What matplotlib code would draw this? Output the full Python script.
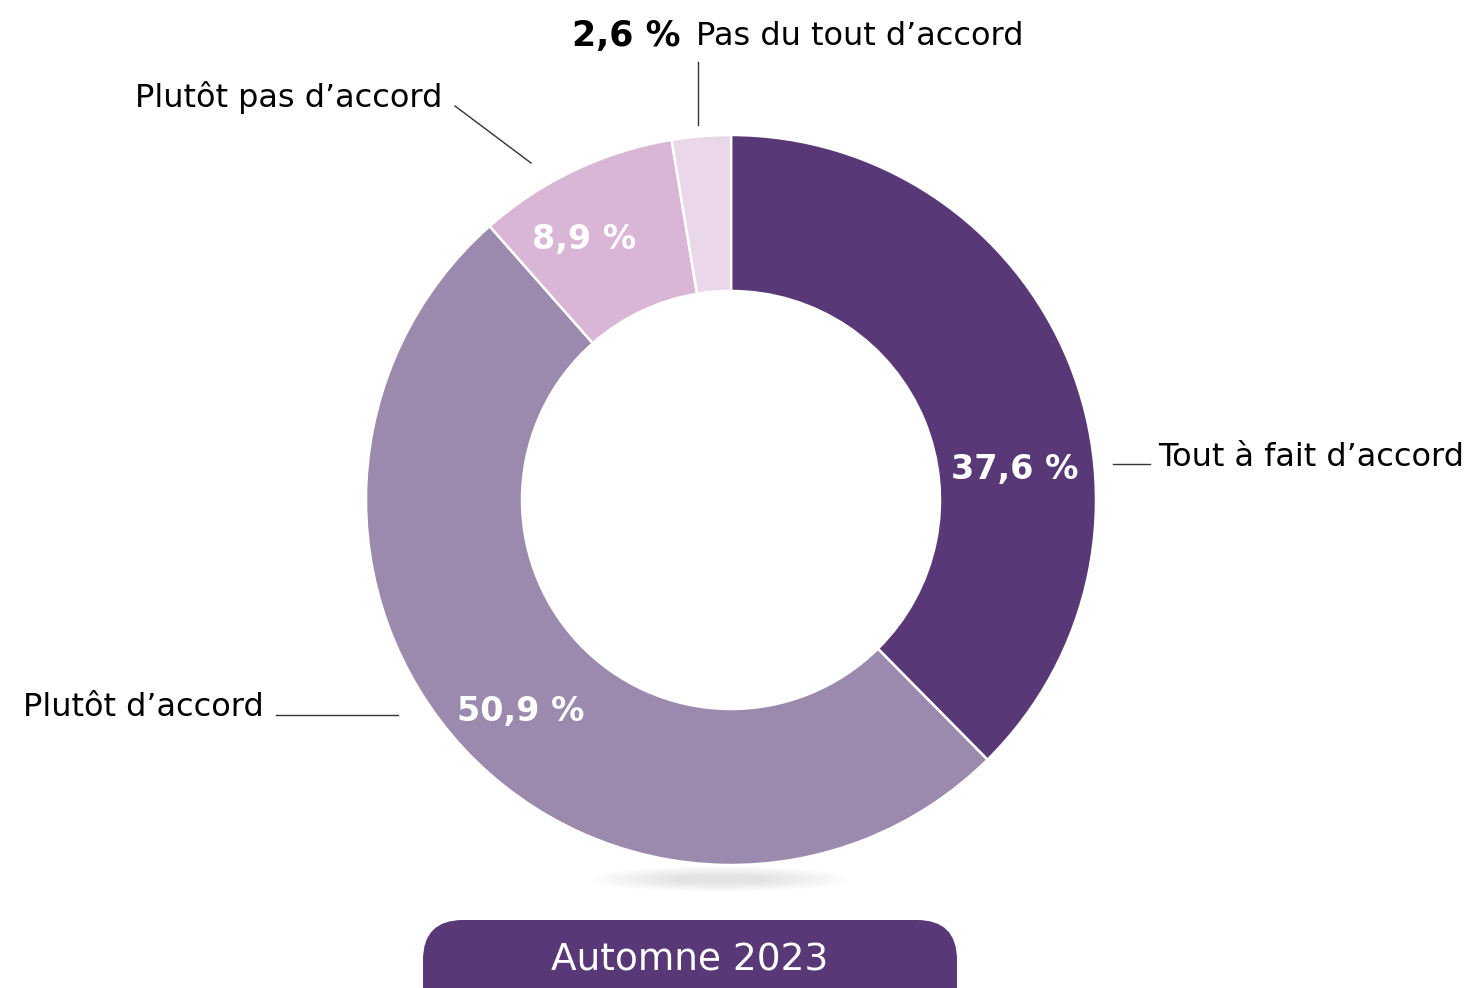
import matplotlib
matplotlib.use("Agg")
import matplotlib.pyplot as plt
from matplotlib.patches import FancyBboxPatch, Ellipse

# data
categories = ["Tout à fait d’accord", "Plutôt d’accord", "Plutôt pas d’accord", "Pas du tout d’accord"]
values = [37.6, 50.9, 8.9, 2.6]
value_labels = ["37,6 %", "50,9 %", "8,9 %", "2,6 %"]
colors = ["#583876", "#9c8aae", "#d9b5d6", "#ead7ea"]
period = "Automne 2023"

W, H = 1473, 988
plt.rcParams['font.family'] = ['DejaVu Sans']

fig = plt.figure(figsize=(W / 100, H / 100), dpi=100)
ax = fig.add_axes([0, 0, 1, 1])


def Y(y):
    # pixel row -> data y
    return H - y


# soft shadow under the donut
for i in range(14):
    ax.add_patch(Ellipse((720, Y(879)), 260 - i * 12, 26 - i * 1.4,
                         color="#000000", alpha=0.007, lw=0, zorder=0))

cx, cy, r_out, ring = 731, Y(500), 365, 156
ax.pie(values, colors=colors, startangle=90, counterclock=False,
       center=(cx, cy), radius=r_out, frame=True,
       wedgeprops=dict(width=ring, edgecolor="white", linewidth=1.8))
ax.set_xlim(0, W)
ax.set_ylim(0, H)
ax.set_aspect('auto')
ax.axis('off')

# percentages inside the ring
inner_pos = [(1015, 469), (521, 711), (584, 240)]
for (x, y), lab in zip(inner_pos, value_labels[:3]):
    ax.text(x, Y(y), lab, color="white", fontsize=24, fontweight="bold",
            ha="center", va="center")

# category labels and leader lines
lc = "#333333"
fs = 23
ax.plot([1113, 1150], [Y(464), Y(464)], color=lc, lw=1)
ax.text(1158, Y(458), categories[0], fontsize=fs, ha="left", va="center")

ax.plot([276, 398], [Y(715), Y(715)], color=lc, lw=1)
ax.text(264, Y(708), categories[1], fontsize=fs, ha="right", va="center")

ax.plot([455, 531], [Y(106), Y(163)], color=lc, lw=1)
ax.text(442, Y(98), categories[2], fontsize=fs, ha="right", va="center")

ax.plot([698, 698], [Y(62), Y(125)], color=lc, lw=1)
ax.text(681, Y(36), value_labels[3], fontsize=25, fontweight="bold",
        ha="right", va="center")
ax.text(696, Y(37), categories[3], fontsize=fs, ha="left", va="center")

# period badge
ax.add_patch(FancyBboxPatch((463, -100), 454, 128,
                            boxstyle="round,pad=40", fc=colors[0], ec="none"))
ax.text(690, Y(960), period, color="white", fontsize=27,
        ha="center", va="center")

fig.savefig("out.png", dpi=100)
